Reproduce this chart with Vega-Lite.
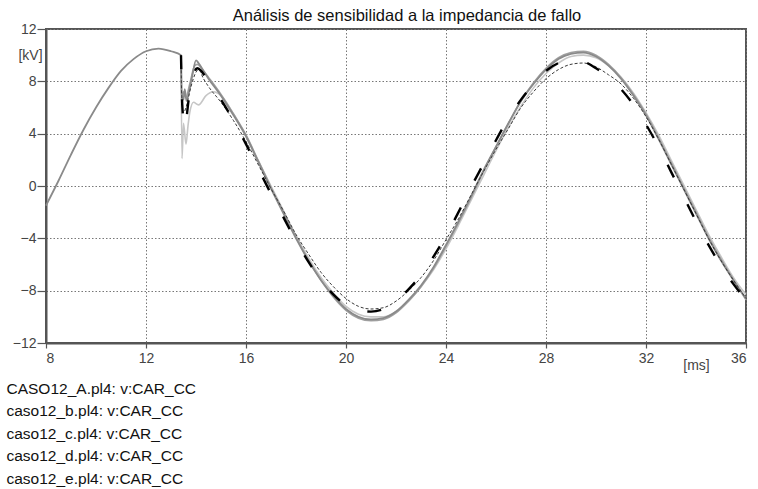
{
  "$schema": "https://vega.github.io/schema/vega-lite/v6.json",
  "width": 700,
  "height": 314,
  "autosize": "none",
  "padding": {"left": 46, "top": 29, "right": 12, "bottom": 146},
  "background": "white",
  "title": {
    "text": "Análisis de sensibilidad a la impedancia de fallo",
    "fontSize": 16.5,
    "fontWeight": "normal",
    "font": "Liberation Sans",
    "color": "#111",
    "anchor": "middle",
    "dx": 11,
    "offset": -2
  },
  "data": {
    "values": [
      {"s": "A", "t": 8.0, "v": -1.5}, {"s": "A", "t": 8.5, "v": 0.4}, {"s": "A", "t": 9.0, "v": 2.4},
      {"s": "A", "t": 9.5, "v": 4.3}, {"s": "A", "t": 10.0, "v": 6.0}, {"s": "A", "t": 10.5, "v": 7.5},
      {"s": "A", "t": 11.0, "v": 8.8}, {"s": "A", "t": 11.5, "v": 9.7}, {"s": "A", "t": 12.0, "v": 10.3},
      {"s": "A", "t": 12.5, "v": 10.5}, {"s": "A", "t": 13.0, "v": 10.3}, {"s": "A", "t": 13.4, "v": 10.0},
      {"s": "A", "t": 13.43, "v": 7.0}, {"s": "A", "t": 13.5, "v": 6.6}, {"s": "A", "t": 13.55, "v": 7.4},
      {"s": "A", "t": 13.62, "v": 6.5}, {"s": "A", "t": 13.7, "v": 7.0}, {"s": "A", "t": 13.85, "v": 8.4},
      {"s": "A", "t": 14.0, "v": 9.6}, {"s": "A", "t": 14.1, "v": 9.4}, {"s": "A", "t": 14.3, "v": 8.8},
      {"s": "A", "t": 14.5, "v": 8.2}, {"s": "A", "t": 15.0, "v": 6.9}, {"s": "A", "t": 15.5, "v": 5.4},
      {"s": "A", "t": 16.0, "v": 3.8}, {"s": "A", "t": 16.5, "v": 1.8}, {"s": "A", "t": 17.0, "v": -0.2},
      {"s": "A", "t": 17.5, "v": -2.1}, {"s": "A", "t": 18.0, "v": -4.0}, {"s": "A", "t": 18.5, "v": -5.7},
      {"s": "A", "t": 19.0, "v": -7.2}, {"s": "A", "t": 19.5, "v": -8.4}, {"s": "A", "t": 20.0, "v": -9.4},
      {"s": "A", "t": 20.5, "v": -10.0}, {"s": "A", "t": 21.0, "v": -10.2}, {"s": "A", "t": 21.5, "v": -10.1},
      {"s": "A", "t": 22.0, "v": -9.6}, {"s": "A", "t": 22.5, "v": -8.7}, {"s": "A", "t": 23.0, "v": -7.6},
      {"s": "A", "t": 23.5, "v": -6.2}, {"s": "A", "t": 24.0, "v": -4.5}, {"s": "A", "t": 24.5, "v": -2.7},
      {"s": "A", "t": 25.0, "v": -0.8}, {"s": "A", "t": 25.5, "v": 1.2}, {"s": "A", "t": 26.0, "v": 3.0},
      {"s": "A", "t": 26.5, "v": 4.8}, {"s": "A", "t": 27.0, "v": 6.5}, {"s": "A", "t": 27.5, "v": 7.8},
      {"s": "A", "t": 28.0, "v": 8.9}, {"s": "A", "t": 28.5, "v": 9.7}, {"s": "A", "t": 29.0, "v": 10.1},
      {"s": "A", "t": 29.5, "v": 10.2}, {"s": "A", "t": 30.0, "v": 9.9}, {"s": "A", "t": 30.5, "v": 9.2},
      {"s": "A", "t": 31.0, "v": 8.2}, {"s": "A", "t": 31.5, "v": 6.9}, {"s": "A", "t": 32.0, "v": 5.4},
      {"s": "A", "t": 32.5, "v": 3.6}, {"s": "A", "t": 33.0, "v": 1.7}, {"s": "A", "t": 33.5, "v": -0.2},
      {"s": "A", "t": 34.0, "v": -2.1}, {"s": "A", "t": 34.5, "v": -4.0}, {"s": "A", "t": 35.0, "v": -5.7},
      {"s": "A", "t": 35.5, "v": -7.2}, {"s": "A", "t": 36.0, "v": -8.6},

      {"s": "b", "t": 13.4, "v": 10.0}, {"s": "b", "t": 13.43, "v": 6.6}, {"s": "b", "t": 13.5, "v": 7.2},
      {"s": "b", "t": 13.6, "v": 6.8}, {"s": "b", "t": 13.75, "v": 7.8}, {"s": "b", "t": 13.95, "v": 9.2},
      {"s": "b", "t": 14.05, "v": 9.3}, {"s": "b", "t": 14.3, "v": 8.8}, {"s": "b", "t": 14.5, "v": 8.3},
      {"s": "b", "t": 15.0, "v": 7.0}, {"s": "b", "t": 15.5, "v": 5.5}, {"s": "b", "t": 16.0, "v": 3.9},
      {"s": "b", "t": 16.5, "v": 1.9}, {"s": "b", "t": 17.0, "v": -0.1}, {"s": "b", "t": 17.5, "v": -2.0},
      {"s": "b", "t": 18.0, "v": -3.9}, {"s": "b", "t": 18.5, "v": -5.7}, {"s": "b", "t": 19.0, "v": -7.2},
      {"s": "b", "t": 19.5, "v": -8.5}, {"s": "b", "t": 20.0, "v": -9.5}, {"s": "b", "t": 20.5, "v": -10.1},
      {"s": "b", "t": 21.0, "v": -10.3}, {"s": "b", "t": 21.5, "v": -10.2}, {"s": "b", "t": 22.0, "v": -9.7},
      {"s": "b", "t": 22.5, "v": -8.8}, {"s": "b", "t": 23.0, "v": -7.7}, {"s": "b", "t": 23.5, "v": -6.3},
      {"s": "b", "t": 24.0, "v": -4.6}, {"s": "b", "t": 24.5, "v": -2.8}, {"s": "b", "t": 25.0, "v": -0.9},
      {"s": "b", "t": 25.5, "v": 1.1}, {"s": "b", "t": 26.0, "v": 3.0}, {"s": "b", "t": 26.5, "v": 4.8},
      {"s": "b", "t": 27.0, "v": 6.5}, {"s": "b", "t": 27.5, "v": 7.9}, {"s": "b", "t": 28.0, "v": 9.0},
      {"s": "b", "t": 28.5, "v": 9.8}, {"s": "b", "t": 29.0, "v": 10.2}, {"s": "b", "t": 29.5, "v": 10.3},
      {"s": "b", "t": 30.0, "v": 10.0}, {"s": "b", "t": 30.5, "v": 9.3}, {"s": "b", "t": 31.0, "v": 8.3},
      {"s": "b", "t": 31.5, "v": 7.0}, {"s": "b", "t": 32.0, "v": 5.5}, {"s": "b", "t": 32.5, "v": 3.7},
      {"s": "b", "t": 33.0, "v": 1.8}, {"s": "b", "t": 33.5, "v": -0.1}, {"s": "b", "t": 34.0, "v": -2.0},
      {"s": "b", "t": 34.5, "v": -3.9}, {"s": "b", "t": 35.0, "v": -5.6}, {"s": "b", "t": 35.5, "v": -7.2},
      {"s": "b", "t": 36.0, "v": -8.7},

      {"s": "c", "t": 13.4, "v": 10.0}, {"s": "c", "t": 13.44, "v": 2.1}, {"s": "c", "t": 13.5, "v": 4.8},
      {"s": "c", "t": 13.6, "v": 3.2}, {"s": "c", "t": 13.68, "v": 4.6}, {"s": "c", "t": 13.75, "v": 5.6},
      {"s": "c", "t": 13.9, "v": 6.4}, {"s": "c", "t": 14.1, "v": 6.2}, {"s": "c", "t": 14.4, "v": 6.9},
      {"s": "c", "t": 14.7, "v": 7.2}, {"s": "c", "t": 15.0, "v": 6.9}, {"s": "c", "t": 15.5, "v": 5.5},
      {"s": "c", "t": 16.0, "v": 3.8}, {"s": "c", "t": 16.5, "v": 1.9}, {"s": "c", "t": 17.0, "v": 0.0},
      {"s": "c", "t": 17.5, "v": -1.9}, {"s": "c", "t": 18.0, "v": -3.8}, {"s": "c", "t": 18.5, "v": -5.5},
      {"s": "c", "t": 19.0, "v": -7.0}, {"s": "c", "t": 19.5, "v": -8.2}, {"s": "c", "t": 20.0, "v": -9.2},
      {"s": "c", "t": 20.5, "v": -9.8}, {"s": "c", "t": 21.0, "v": -10.0}, {"s": "c", "t": 21.5, "v": -10.0},
      {"s": "c", "t": 22.0, "v": -9.6}, {"s": "c", "t": 22.5, "v": -8.8}, {"s": "c", "t": 23.0, "v": -7.7},
      {"s": "c", "t": 23.5, "v": -6.4}, {"s": "c", "t": 24.0, "v": -4.8}, {"s": "c", "t": 24.5, "v": -3.0},
      {"s": "c", "t": 25.0, "v": -1.1}, {"s": "c", "t": 25.5, "v": 0.8}, {"s": "c", "t": 26.0, "v": 2.7},
      {"s": "c", "t": 26.5, "v": 4.5}, {"s": "c", "t": 27.0, "v": 6.1}, {"s": "c", "t": 27.5, "v": 7.5},
      {"s": "c", "t": 28.0, "v": 8.6}, {"s": "c", "t": 28.5, "v": 9.4}, {"s": "c", "t": 29.0, "v": 9.9},
      {"s": "c", "t": 29.5, "v": 10.0}, {"s": "c", "t": 30.0, "v": 9.8}, {"s": "c", "t": 30.5, "v": 9.2},
      {"s": "c", "t": 31.0, "v": 8.3}, {"s": "c", "t": 31.5, "v": 7.1}, {"s": "c", "t": 32.0, "v": 5.6},
      {"s": "c", "t": 32.5, "v": 3.9}, {"s": "c", "t": 33.0, "v": 2.0}, {"s": "c", "t": 33.5, "v": 0.1},
      {"s": "c", "t": 34.0, "v": -1.8}, {"s": "c", "t": 34.5, "v": -3.7}, {"s": "c", "t": 35.0, "v": -5.4},
      {"s": "c", "t": 35.5, "v": -7.0}, {"s": "c", "t": 36.0, "v": -8.3},

      {"s": "d", "t": 13.4, "v": 10.0}, {"s": "d", "t": 13.45, "v": 6.2}, {"s": "d", "t": 13.55, "v": 4.4},
      {"s": "d", "t": 13.7, "v": 6.5}, {"s": "d", "t": 13.9, "v": 8.5}, {"s": "d", "t": 14.05, "v": 9.0},
      {"s": "d", "t": 14.5, "v": 8.0}, {"s": "d", "t": 15.0, "v": 6.6}, {"s": "d", "t": 15.5, "v": 5.0},
      {"s": "d", "t": 16.0, "v": 3.2}, {"s": "d", "t": 16.5, "v": 1.3}, {"s": "d", "t": 17.0, "v": -0.6},
      {"s": "d", "t": 17.5, "v": -2.4}, {"s": "d", "t": 18.0, "v": -4.2}, {"s": "d", "t": 18.5, "v": -5.8},
      {"s": "d", "t": 19.0, "v": -7.2}, {"s": "d", "t": 19.5, "v": -8.3}, {"s": "d", "t": 20.0, "v": -9.1},
      {"s": "d", "t": 20.5, "v": -9.5}, {"s": "d", "t": 21.0, "v": -9.6}, {"s": "d", "t": 21.5, "v": -9.4},
      {"s": "d", "t": 22.0, "v": -8.8}, {"s": "d", "t": 22.5, "v": -7.9}, {"s": "d", "t": 23.0, "v": -6.8},
      {"s": "d", "t": 23.5, "v": -5.4}, {"s": "d", "t": 24.0, "v": -3.8}, {"s": "d", "t": 24.5, "v": -2.0},
      {"s": "d", "t": 25.0, "v": -0.1}, {"s": "d", "t": 25.5, "v": 1.7}, {"s": "d", "t": 26.0, "v": 3.5},
      {"s": "d", "t": 26.5, "v": 5.2}, {"s": "d", "t": 27.0, "v": 6.6}, {"s": "d", "t": 27.5, "v": 7.8},
      {"s": "d", "t": 28.0, "v": 8.8}, {"s": "d", "t": 28.5, "v": 9.4}, {"s": "d", "t": 29.0, "v": 9.6},
      {"s": "d", "t": 29.5, "v": 9.5}, {"s": "d", "t": 30.0, "v": 9.0}, {"s": "d", "t": 30.5, "v": 8.3},
      {"s": "d", "t": 31.0, "v": 7.4}, {"s": "d", "t": 31.5, "v": 6.2}, {"s": "d", "t": 32.0, "v": 4.7},
      {"s": "d", "t": 32.5, "v": 3.0}, {"s": "d", "t": 33.0, "v": 1.1}, {"s": "d", "t": 33.5, "v": -0.8},
      {"s": "d", "t": 34.0, "v": -2.7}, {"s": "d", "t": 34.5, "v": -4.5}, {"s": "d", "t": 35.0, "v": -6.1},
      {"s": "d", "t": 35.5, "v": -7.5}, {"s": "d", "t": 36.0, "v": -8.7},

      {"s": "e", "t": 13.4, "v": 10.0}, {"s": "e", "t": 13.43, "v": 6.8}, {"s": "e", "t": 13.5, "v": 5.6},
      {"s": "e", "t": 13.6, "v": 6.0}, {"s": "e", "t": 13.8, "v": 7.6}, {"s": "e", "t": 14.0, "v": 8.7},
      {"s": "e", "t": 14.1, "v": 8.9}, {"s": "e", "t": 14.3, "v": 8.2}, {"s": "e", "t": 14.5, "v": 7.6},
      {"s": "e", "t": 15.0, "v": 6.4}, {"s": "e", "t": 15.5, "v": 5.0}, {"s": "e", "t": 16.0, "v": 3.4},
      {"s": "e", "t": 16.5, "v": 1.6}, {"s": "e", "t": 17.0, "v": -0.2}, {"s": "e", "t": 17.5, "v": -1.9},
      {"s": "e", "t": 18.0, "v": -3.7}, {"s": "e", "t": 18.5, "v": -5.2}, {"s": "e", "t": 19.0, "v": -6.6},
      {"s": "e", "t": 19.5, "v": -7.7}, {"s": "e", "t": 20.0, "v": -8.6}, {"s": "e", "t": 20.5, "v": -9.2},
      {"s": "e", "t": 21.0, "v": -9.4}, {"s": "e", "t": 21.5, "v": -9.3}, {"s": "e", "t": 22.0, "v": -8.8},
      {"s": "e", "t": 22.5, "v": -8.0}, {"s": "e", "t": 23.0, "v": -7.0}, {"s": "e", "t": 23.5, "v": -5.7},
      {"s": "e", "t": 24.0, "v": -4.1}, {"s": "e", "t": 24.5, "v": -2.5}, {"s": "e", "t": 25.0, "v": -0.7},
      {"s": "e", "t": 25.5, "v": 1.1}, {"s": "e", "t": 26.0, "v": 2.8}, {"s": "e", "t": 26.5, "v": 4.4},
      {"s": "e", "t": 27.0, "v": 6.0}, {"s": "e", "t": 27.5, "v": 7.2}, {"s": "e", "t": 28.0, "v": 8.2},
      {"s": "e", "t": 28.5, "v": 8.9}, {"s": "e", "t": 29.0, "v": 9.3}, {"s": "e", "t": 29.5, "v": 9.4},
      {"s": "e", "t": 30.0, "v": 9.1}, {"s": "e", "t": 30.5, "v": 8.5}, {"s": "e", "t": 31.0, "v": 7.8},
      {"s": "e", "t": 31.5, "v": 6.7}, {"s": "e", "t": 32.0, "v": 5.3}, {"s": "e", "t": 32.5, "v": 3.6},
      {"s": "e", "t": 33.0, "v": 1.7}, {"s": "e", "t": 33.5, "v": -0.2}, {"s": "e", "t": 34.0, "v": -2.1},
      {"s": "e", "t": 34.5, "v": -4.0}, {"s": "e", "t": 35.0, "v": -5.7}, {"s": "e", "t": 35.5, "v": -7.2},
      {"s": "e", "t": 36.0, "v": -8.6}
    ]
  },
  "encoding": {
    "x": {
      "field": "t",
      "type": "quantitative",
      "scale": {"domain": [8, 36], "nice": false, "zero": false},
      "axis": {
        "values": [8, 12, 16, 20, 24, 28, 32, 36],
        "tickSize": 5,
        "labelPadding": 3,
        "title": "[ms]",
        "titleX": 650,
        "titleY": 22,
        "titleAlign": "center",
        "titleBaseline": "middle"
      }
    },
    "y": {
      "field": "v",
      "type": "quantitative",
      "scale": {"domain": [-12, 12], "nice": false, "zero": false},
      "axis": {
        "values": [-12, -8, -4, 0, 4, 8, 12],
        "tickSize": 9,
        "labelPadding": 1,
        "title": "[kV]",
        "titleAngle": 0,
        "titleX": -16,
        "titleY": 26,
        "titleAlign": "center",
        "titleBaseline": "middle"
      }
    },
    "color": {
      "field": "s",
      "type": "nominal",
      "scale": {
        "domain": ["A", "b", "c", "d", "e"],
        "range": ["#8a8a8a", "#a0a0a0", "#c6c6c6", "#000000", "#3a3a3a"]
      },
      "legend": {
        "orient": "none",
        "legendX": -55,
        "legendY": 352,
        "title": null,
        "direction": "vertical",
        "labelExpr": "datum.label == 'A' ? 'CASO12_A.pl4: v:CAR_CC' : 'caso12_' + datum.label + '.pl4: v:CAR_CC'"
      }
    }
  },
  "layer": [
    {
      "transform": [{"filter": "datum.s == 'c'"}],
      "mark": {"type": "line", "strokeWidth": 1.6, "interpolate": "monotone"}
    },
    {
      "transform": [{"filter": "datum.s == 'b'"}],
      "mark": {"type": "line", "strokeWidth": 1.6, "interpolate": "monotone"}
    },
    {
      "transform": [{"filter": "datum.s == 'A'"}],
      "mark": {"type": "line", "strokeWidth": 1.8, "interpolate": "monotone"}
    },
    {
      "transform": [{"filter": "datum.s == 'e'"}],
      "mark": {"type": "line", "strokeWidth": 1, "strokeDash": [3, 2], "interpolate": "monotone"}
    },
    {
      "transform": [{"filter": "datum.s == 'd'"}],
      "mark": {"type": "line", "strokeWidth": 2.4, "strokeDash": [14, 30], "interpolate": "monotone"}
    }
  ],
  "config": {
    "font": "Liberation Sans",
    "view": {"stroke": "#555", "strokeWidth": 2},
    "axis": {
      "grid": true,
      "gridColor": "#777",
      "gridDash": [1.5, 2],
      "gridWidth": 1,
      "domainColor": "#555",
      "domainWidth": 2,
      "tickColor": "#555",
      "tickWidth": 1.2,
      "labelFont": "Liberation Sans",
      "labelFontSize": 14,
      "labelColor": "#444",
      "titleFont": "Liberation Sans",
      "titleFontSize": 14,
      "titleFontWeight": "normal",
      "titleColor": "#444"
    },
    "legend": {
      "labelFont": "Liberation Sans",
      "labelFontSize": 15.5,
      "labelColor": "#111",
      "labelLimit": 400,
      "labelOffset": 0,
      "symbolSize": 0,
      "symbolOpacity": 0,
      "symbolStrokeWidth": 0,
      "rowPadding": 5.5,
      "padding": 0
    }
  }
}
